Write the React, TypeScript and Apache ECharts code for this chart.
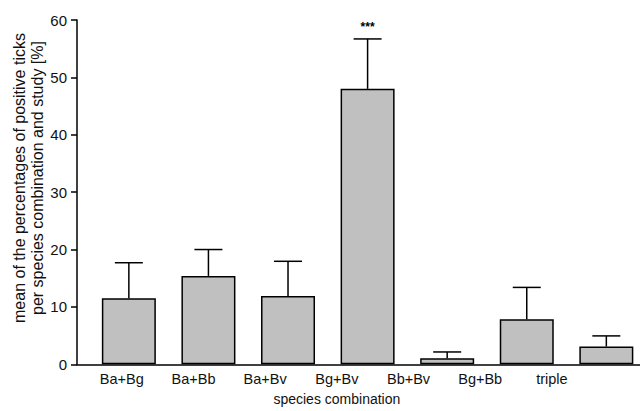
import React, { useEffect, useRef } from "react";
import * as echarts from "echarts";

const categories = ["Ba+Bg", "Ba+Bb", "Ba+Bv", "Bg+Bv", "Bb+Bv", "Bg+Bb", "triple"];
const means = [11.5, 15.4, 11.9, 48.0, 1.05, 7.85, 3.1];
const errorTops = [17.7, 20.0, 17.95, 56.7, 2.15, 13.4, 4.95];
const significance = ["", "", "", "***", "", "", ""];
const yTicks = { min: 0, max: 60, interval: 10 };
const yTitleLines = [
  "mean of the percentages of positive ticks",
  "per species combination and study [%]",
];
const xTitle = "species combination";

const FONT = "'Liberation Sans', Arial, Helvetica, sans-serif";

export default function App() {
  const ref = useRef<HTMLDivElement>(null);
  useEffect(() => {
    if (!ref.current) return;
    const chart = echarts.init(ref.current, null, { renderer: "svg" });
    const barData = means.map((v, i) => [i, v]);
    const errData = means.map((v, i) => [i, v, errorTops[i]]);
    chart.setOption({
      animation: false,
      backgroundColor: "#ffffff",
      textStyle: { fontFamily: FONT },
      grid: [
        { left: 77, right: 0, top: 20, bottom: 46.7, containLabel: false },
        { left: 86, width: 501.7, top: 20, bottom: 46.7, containLabel: false },
      ],
      graphic: yTitleLines.map((t, k) => ({
        type: "text",
        x: 19 + k * 18.5,
        y: 178,
        rotation: Math.PI / 2,
        style: {
          text: t,
          fill: "#111",
          font: `16px ${FONT}`,
          textAlign: "center",
          textVerticalAlign: "middle",
        },
      })),
      xAxis: [
        {
          type: "value",
          gridIndex: 0,
          min: -0.6516,
          max: 6.423,
          axisLine: { show: true, onZero: false, lineStyle: { color: "#000", width: 1.5 } },
          axisTick: { show: false },
          axisLabel: { show: false },
          splitLine: { show: false },
        },
        {
          type: "category",
          gridIndex: 1,
          data: categories,
          boundaryGap: true,
          axisLine: { show: false },
          axisTick: { show: false },
          axisLabel: { color: "#111", fontSize: 14.5, fontFamily: FONT, margin: 12, interval: 0 },
          name: xTitle,
          nameLocation: "middle",
          nameGap: 33,
          nameTextStyle: { color: "#111", fontSize: 14, fontFamily: FONT },
        },
      ],
      yAxis: [
        {
          type: "value",
          gridIndex: 0,
          min: yTicks.min,
          max: yTicks.max,
          interval: yTicks.interval,
          axisLine: { show: true, onZero: false, lineStyle: { color: "#000", width: 1.5 } },
          axisTick: { show: true, length: 6, lineStyle: { color: "#000", width: 1.5 } },
          axisLabel: { color: "#111", fontSize: 15, fontFamily: FONT, margin: 10 },
          splitLine: { show: false },
        },
        {
          type: "value",
          gridIndex: 1,
          show: false,
          min: yTicks.min,
          max: yTicks.max,
        },
      ],
      series: [
        {
          type: "bar",
          xAxisIndex: 0,
          yAxisIndex: 0,
          data: barData,
          barWidth: 54,
          itemStyle: { color: "#c0c0c0", borderColor: "#000", borderWidth: 1.5 },
          z: 2,
        },
        {
          type: "custom",
          xAxisIndex: 0,
          yAxisIndex: 0,
          data: errData,
          z: 3,
          renderItem: (params: any, api: any) => {
            const i = api.value(0);
            const base = api.coord([i, api.value(1)]);
            const top = api.coord([i, api.value(2)]);
            const half = 14;
            const children: any[] = [
              {
                type: "line",
                shape: { x1: base[0], y1: base[1], x2: top[0], y2: top[1] },
                style: { stroke: "#000", lineWidth: 1.5 },
              },
              {
                type: "line",
                shape: { x1: top[0] - half, y1: top[1], x2: top[0] + half, y2: top[1] },
                style: { stroke: "#000", lineWidth: 1.5 },
              },
            ];
            const sig = significance[params.dataIndex];
            if (sig) {
              children.push({
                type: "text",
                x: top[0],
                y: top[1] - 6,
                style: {
                  text: sig,
                  fill: "#000",
                  font: `bold 12px ${FONT}`,
                  textAlign: "center",
                  textVerticalAlign: "bottom",
                },
              });
            }
            return { type: "group", children };
          },
        },
      ],
    });
    return () => chart.dispose();
  }, []);
  return (
    <div
      ref={ref}
      style={{ position: "absolute", left: 0, top: 0, width: 640, height: 411 }}
    />
  );
}
